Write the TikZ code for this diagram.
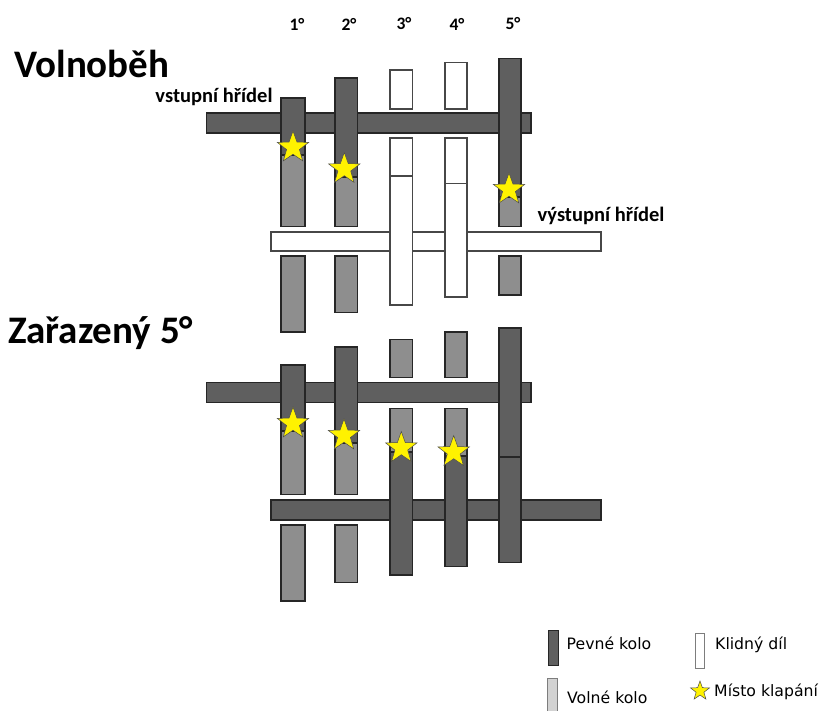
\documentclass[tikz,border=0pt]{standalone}
\usepackage{fontspec}
\setmainfont{Carlito}
\newfontfamily\legfont{DejaVu Sans}
\usetikzlibrary{shapes.geometric}
\definecolor{darkp}{HTML}{5F5F5F}
\definecolor{grayp}{HTML}{8E8E8E}
\definecolor{lightp}{HTML}{D2D2D2}
\definecolor{edgep}{HTML}{262626}
\tikzset{
  x=1pt,y=-1pt,
  dk/.style={draw=edgep,line width=1.5pt,fill=darkp},
  gy/.style={draw=edgep,line width=1.5pt,fill=grayp},
  wh/.style={draw=edgep!85,line width=1.5pt,fill=white},
  klap/.style={star,star points=5,star point ratio=2.45,draw=black!70,line width=.5pt,fill=yellow,minimum size=#1,inner sep=0pt},
  klap/.default=33pt,
  lab/.style={font=\bfseries\fontsize{20.5}{22}\selectfont,inner sep=0pt},
  head/.style={font=\bfseries\fontsize{39}{42}\selectfont,inner sep=0pt,anchor=west},
  deg/.style={font=\bfseries\fontsize{17.5}{19}\selectfont,inner sep=0pt},
  leg/.style={font=\legfont\fontsize{15.7}{18}\selectfont,inner sep=0pt,anchor=west},
}
\begin{document}
\begin{tikzpicture}
\useasboundingbox (0,0) rectangle (821,711);
\fill[white] (0,0) rectangle (821,711);
% headings
\node[head] (h1) at (14,64) {Volnoběh};
\node[head] (h2) at (8,333) {Zařazený 5°};
\node[lab] (in) at (214,97) {vstupní hřídel};
\node[lab] (out) at (601,216) {výstupní hřídel};
\node[deg] (g1) at (297,24) {1°};
\node[deg] (g2) at (349,24) {2°};
\node[deg] (g3) at (404,24) {3°};
\node[deg] (g4) at (457,24) {4°};
\node[deg] (g5) at (513,24) {5°};
% top: shafts
\draw[dk] (206.5,113) rectangle (531,133);
\draw[wh] (271,232) rectangle (601,251);
% top: column 1
\draw[gy] (281,150) rectangle (305,226.5);
\draw[dk] (281,98) rectangle (305,155);
\draw[gy] (281,256) rectangle (305,332);
% top: column 2
\draw[gy] (335,170) rectangle (357.5,226.5);
\draw[dk] (335,78) rectangle (357.5,177);
\draw[gy] (335,256) rectangle (357.5,312.5);
% top: column 3
\draw[wh] (390,70) rectangle (412.5,109);
\draw[wh] (390,138) rectangle (412.5,176);
\draw[wh] (390,176) rectangle (412.5,305);
% top: column 4
\draw[wh] (445,62.5) rectangle (467,109);
\draw[wh] (445,138) rectangle (467,183.5);
\draw[wh] (445,183.5) rectangle (467,297);
% top: column 5
\draw[gy] (499,190) rectangle (521,226.5);
\draw[dk] (499,58.5) rectangle (521,197);
\draw[gy] (499,256) rectangle (521,295);
% top: stars
\node[klap] (s1) at (293,147.5) {};
\node[klap] (s2) at (344.3,169) {};
\node[klap] (s3) at (509,189.5) {};
% bottom: shafts
\draw[dk] (206.5,382.5) rectangle (531,402.5);
\draw[dk] (271,500) rectangle (601,520);
% bottom: column 1
\draw[gy] (281,425) rectangle (305,494.5);
\draw[dk] (281,365) rectangle (305,431);
\draw[gy] (281,525) rectangle (305,601);
% bottom: column 2
\draw[gy] (335,436) rectangle (357.5,494.5);
\draw[dk] (335,347) rectangle (357.5,443);
\draw[gy] (335,525) rectangle (357.5,582.5);
% bottom: column 3
\draw[gy] (390,339.5) rectangle (412.5,377.5);
\draw[gy] (390,408.5) rectangle (412.5,452);
\draw[dk] (390,452) rectangle (412.5,575);
% bottom: column 4
\draw[gy] (445,332) rectangle (467,377.5);
\draw[gy] (445,408.5) rectangle (467,456);
\draw[dk] (445,456) rectangle (467,566.5);
% bottom: column 5
\draw[dk] (499,328) rectangle (521,457);
\draw[dk] (499,457) rectangle (521,562.5);
% bottom: stars
\node[klap] (s4) at (293,423.5) {};
\node[klap] (s5) at (344,435.5) {};
\node[klap] (s6) at (401.3,448) {};
\node[klap] (s7) at (453.7,452) {};
% legend
\draw[dk,line width=1pt] (548.5,630) rectangle (558,665);
\draw[wh,line width=1pt,draw=edgep!60] (695,633) rectangle (704.5,668);
\fill[lightp] (547.5,678.5) rectangle (557,711);
\draw[draw=edgep!60,line width=1pt] (547.5,711) -- (547.5,678.5) -- (557,678.5) -- (557,711);
\node[klap=20pt] (s8) at (700,691) {};
\node[leg] (l1) at (566.5,643) {Pevné kolo};
\node[leg] (l2) at (715,644.5) {Klidný díl};
\node[leg] (l3) at (567,697) {Volné kolo};
\node[leg] (l4) at (714,692) {Místo klapání};
\end{tikzpicture}
\end{document}
